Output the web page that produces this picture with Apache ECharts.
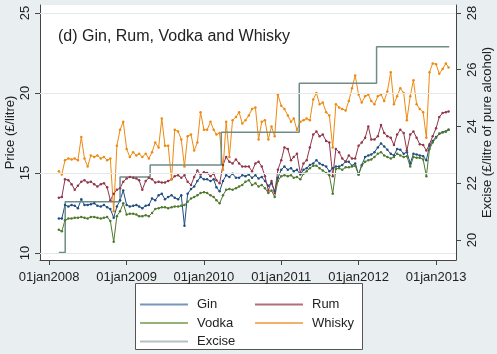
<!DOCTYPE html>
<html>
<head>
<meta charset="utf-8">
<style>
  html, body { margin: 0; padding: 0; background: #e9eff1; }
  #main { width: 497px; height: 354px; }
</style>
</head>
<body>
<div id="main"></div>
<script src="https://cdn.jsdelivr.net/npm/echarts@6/dist/echarts.min.js"></script>
<script>
// semi-monthly readings, Feb 2008 - Mar 2013
var dates = ('2008-02-16 2008-03-01 2008-03-16 2008-04-01 2008-04-16 2008-05-01 2008-05-16 2008-06-01 2008-06-16 2008-07-01 2008-07-16 2008-08-01 2008-08-16 2008-09-01 2008-09-16 2008-10-01 2008-10-16 2008-11-01 2008-11-16 2008-12-01 2008-12-16 ' +
  '2009-01-01 2009-01-16 2009-02-01 2009-02-16 2009-03-01 2009-03-16 2009-04-01 2009-04-16 2009-05-01 2009-05-16 2009-06-01 2009-06-16 2009-07-01 2009-07-16 2009-08-01 2009-08-16 2009-09-01 2009-09-16 2009-10-01 2009-10-16 2009-11-01 2009-11-16 2009-12-01 2009-12-16 ' +
  '2010-01-01 2010-01-16 2010-02-01 2010-02-16 2010-03-01 2010-03-16 2010-04-01 2010-04-16 2010-05-01 2010-05-16 2010-06-01 2010-06-16 2010-07-01 2010-07-16 2010-08-01 2010-08-16 2010-09-01 2010-09-16 2010-10-01 2010-10-16 2010-11-01 2010-11-16 2010-12-01 2010-12-16 ' +
  '2011-01-01 2011-01-16 2011-02-01 2011-02-16 2011-03-01 2011-03-16 2011-04-01 2011-04-16 2011-05-01 2011-05-16 2011-06-01 2011-06-16 2011-07-01 2011-07-16 2011-08-01 2011-08-16 2011-09-01 2011-09-16 2011-10-01 2011-10-16 2011-11-01 2011-11-16 2011-12-01 2011-12-16 ' +
  '2012-01-01 2012-01-16 2012-02-01 2012-02-16 2012-03-01 2012-03-16 2012-04-01 2012-04-16 2012-05-01 2012-05-16 2012-06-01 2012-06-16 2012-07-01 2012-07-16 2012-08-01 2012-08-16 2012-09-01 2012-09-16 2012-10-01 2012-10-16 2012-11-01 2012-11-16 2012-12-01 2012-12-16 ' +
  '2013-01-01 2013-01-16 2013-02-01 2013-02-16 2013-03-01').split(' ');

var gin = [
  12.15, 12.15, 13.0, 12.9, 13.0, 12.95, 12.8, 13.35, 13.0, 13.0, 13.05, 13.1, 12.95, 12.9, 13.0, 12.85, 12.75, 12.2, 12.9, 13.3, 13.9,
  13.0, 12.9, 12.95, 13.0, 12.9, 12.8, 12.95, 13.0, 13.4, 13.3, 13.6, 13.7, 13.35, 13.5, 13.6, 13.45, 13.35, 13.6, 11.7, 13.7, 14.0, 14.15, 14.5, 14.75,
  14.6, 14.6, 14.5, 14.6, 14.1, 13.85, 14.5, 14.85, 14.75, 14.95, 14.7, 14.7, 14.85, 14.8, 14.9, 14.7, 14.85, 14.65, 14.75, 14.5, 14.2, 14.35, 13.85, 14.7,
  15.2, 15.4, 15.2, 15.3, 15.1, 15.2, 14.9, 15.2, 15.3, 15.5, 15.6, 15.8, 15.6, 15.5, 15.4, 15.1, 15.3, 15.4, 15.4, 15.5, 15.7, 15.7, 15.45, 15.6,
  14.9, 15.5, 16.0, 16.1, 16.15, 16.3, 16.6, 16.85, 16.65, 16.45, 16.2, 16.1, 16.5, 16.45, 16.2, 16.3, 15.6, 16.2, 16.15, 16.1, 16.05, 15.8, 16.7, 17.0,
  17.25, 17.45, 17.55, 17.6, 17.7
];
var rum = [
  13.45, 13.5, 14.6, 14.55, 14.3, 13.95, 14.2, 14.45, 14.55, 14.4, 14.45, 14.3, 14.15, 14.3, 14.35, 14.1, 13.3, 13.7, 13.95, 14.05, 14.45,
  14.65, 14.75, 14.7, 14.65, 14.55, 13.95, 14.5, 14.7, 14.6, 14.4, 14.45, 14.4, 14.4, 14.5, 14.6, 14.8, 14.85, 14.7, 14.85, 14.45, 14.25, 14.75, 15.15, 14.9,
  15.05, 15.0, 14.8, 14.95, 14.55, 14.35, 15.5, 16.0, 15.7, 15.6, 15.85, 15.6, 15.4, 15.4, 15.4, 15.1, 15.6, 15.7, 15.4, 14.8, 13.9, 14.5, 13.75, 15.2,
  15.8, 16.6, 16.5, 15.8, 16.0, 16.2, 15.0, 15.6, 15.8, 16.6, 17.4, 17.6, 17.3, 17.4, 17.0, 16.9, 14.8, 16.5, 16.3, 15.9, 15.7, 16.1, 15.9, 15.9,
  16.7, 16.9, 17.2, 17.9, 17.1, 17.1, 17.3, 18.0, 17.5, 17.3, 17.2, 16.75, 17.4, 17.7, 17.5, 16.4, 17.4, 17.6, 17.2, 16.8, 16.75, 16.4, 16.8, 17.3,
  17.8, 18.5, 18.75, 18.8, 18.85
];
var vodka = [
  11.45, 11.35, 12.05, 12.15, 12.15, 12.2, 12.2, 12.25, 12.2, 12.15, 12.25, 12.25, 12.2, 12.15, 12.2, 12.25, 12.0, 10.7, 12.3, 12.6, 13.1,
  12.4, 12.45, 12.45, 12.4, 12.3, 12.3, 12.35, 12.3, 12.5, 12.75, 12.8, 12.85, 12.85, 12.8, 12.85, 12.9, 12.9, 12.95, 13.0, 13.2, 13.4, 13.5, 13.6, 13.75,
  13.8, 13.75, 13.6, 13.5, 13.3, 13.1, 13.6, 13.95, 14.0, 13.95, 14.05, 14.15, 14.25, 14.45, 14.55, 14.25, 14.35, 14.15, 14.25, 14.05, 13.75, 13.9, 13.5, 14.5,
  14.8, 14.85, 14.8, 14.85, 14.7, 14.75, 14.6, 14.95, 15.1, 15.3, 15.45, 15.45, 15.3, 15.15, 15.0, 14.85, 13.7, 15.25, 15.3, 15.2, 15.35, 15.35, 15.4, 15.45,
  14.9, 15.45, 15.7, 15.8, 15.85, 16.0, 16.2, 16.3, 16.1, 16.0, 15.9, 16.0, 16.2, 16.1, 16.0, 16.05, 15.4, 16.0, 15.95, 15.95, 15.85, 14.8, 16.5, 16.9,
  17.2, 17.45, 17.55, 17.6, 17.7
];
var whisky = [
  15.1, 14.9, 15.8, 15.9, 15.85, 15.9, 15.8, 17.25, 15.9, 15.4, 16.1, 16.0, 16.1, 15.9, 16.0, 15.8, 15.9, 12.6, 16.7, 17.7, 18.2,
  16.5, 16.0, 16.3, 16.1, 16.2, 16.0, 16.2, 15.9, 16.3, 16.9, 16.6, 18.4, 16.7, 16.7, 14.6, 17.7, 17.6, 17.1, 15.4, 17.3, 17.4, 16.4, 16.9, 18.8,
  17.7, 17.7, 18.2, 17.7, 17.4, 17.5, 15.2, 18.2, 16.0, 18.3, 18.5, 18.8, 18.1, 18.3, 18.6, 19.0, 19.1, 17.1, 18.2, 18.3, 17.1, 17.9, 17.3, 19.9,
  19.2, 19.0, 18.6, 18.2, 18.4, 17.7, 18.2, 18.3, 18.4, 18.3, 19.6, 20.0, 19.3, 19.4, 18.8, 18.6, 16.6, 19.3, 19.1, 19.0, 18.9, 19.5, 20.3, 21.1,
  19.9, 19.4, 19.8, 19.9, 19.5, 19.3, 19.8, 19.9, 19.5, 20.1, 21.3, 19.3, 19.8, 20.3, 20.0, 18.3, 19.8, 20.8, 19.3, 19.0, 18.8, 17.2, 21.3, 21.85,
  21.8, 21.2, 21.5, 21.85, 21.6
];

// duty per litre of pure alcohol, step changes
var exciseDates = ['2008-02-16', '2008-03-17', '2008-12-01', '2009-04-22', '2010-03-24', '2011-03-27', '2012-03-26', '2013-03-04'];
var excise = [19.56, 21.35, 22.22, 22.64, 23.80, 25.52, 26.81, 26.81];

var priceTicks = [10, 15, 20, 25];
var exciseTicks = [20, 22, 24, 26, 28];
var xTickDates = ['2008-01-01', '2009-01-01', '2010-01-01', '2011-01-01', '2012-01-01', '2013-01-01'];
var xTickLabels = ['01jan2008', '01jan2009', '01jan2010', '01jan2011', '01jan2012', '01jan2013'];

var font = '"Liberation Sans", Arial, sans-serif';
var axisColor = '#444';

function ts(d) { return echarts.time.parse(d).getTime(); }
var xTickVals = xTickDates.map(ts);

function pairs(vals) {
  return dates.map(function (d, i) { return [ts(d), vals[i]]; });
}

function priceLine(name, color, vals) {
  return {
    name: name,
    type: 'line',
    data: pairs(vals),
    symbol: 'circle',
    symbolSize: 2.5,
    showSymbol: true,
    lineStyle: { width: 1, color: color },
    itemStyle: { color: color },
    emphasis: { disabled: true },
    animation: false
  };
}

var chart = echarts.init(document.getElementById('main'));

var ginSeries = priceLine('Gin', '#1f4f80', gin);
ginSeries.markLine = {
  silent: true,
  symbol: ['none', 'none'],
  label: { show: false },
  lineStyle: { color: '#e4e9ec', width: 1, type: 'solid' },
  animation: false,
  data: priceTicks.map(function (v) { return { yAxis: v }; })
};

chart.setOption({
  backgroundColor: '#e9eff1',
  textStyle: { fontFamily: font },
  title: {
    text: '(d) Gin, Rum, Vodka and Whisky',
    left: 58,
    top: 29,
    padding: 0,
    textStyle: { fontSize: 16, fontWeight: 'normal', color: '#222', fontFamily: font }
  },
  grid: {
    left: 40, right: 41, top: 5, bottom: 94,
    outerBoundsMode: 'none',
    containLabel: false,
    show: true, backgroundColor: '#fff', borderWidth: 0
  },
  graphic: [{
    type: 'rect', left: 135, top: 283, z: 0,
    shape: { width: 227, height: 66 },
    style: { fill: '#fff', stroke: '#555', lineWidth: 1 }
  }],
  legend: [{
    orient: 'vertical', left: 140, top: 296.5, padding: 0,
    itemWidth: 48, itemHeight: 2, itemGap: 2.5, icon: 'rect',
    selectedMode: false,
    textStyle: { fontSize: 13, lineHeight: 16, color: '#222', padding: [0, 0, 0, 4] },
    data: [
      { name: 'Gin', itemStyle: { color: '#7896bb' } },
      { name: 'Vodka', itemStyle: { color: '#93b274' } },
      { name: 'Excise', itemStyle: { color: '#b6c0c0' } }
    ]
  }, {
    orient: 'vertical', left: 255, top: 296.5, padding: 0,
    itemWidth: 48, itemHeight: 2, itemGap: 2.5, icon: 'rect',
    selectedMode: false,
    textStyle: { fontSize: 13, lineHeight: 16, color: '#222', padding: [0, 0, 0, 4] },
    data: [
      { name: 'Rum', itemStyle: { color: '#b0707a' } },
      { name: 'Whisky', itemStyle: { color: '#f2b06a' } }
    ]
  }],
  xAxis: {
    type: 'value',
    min: ts('2007-11-19'),
    max: ts('2013-04-05'),
    axisLine: { show: true, onZero: false, lineStyle: { color: axisColor } },
    axisTick: { show: true, length: 5, customValues: xTickVals, lineStyle: { color: axisColor } },
    axisLabel: {
      customValues: xTickVals,
      margin: 11,
      fontSize: 13,
      color: '#222',
      formatter: function (v) {
        var i = xTickVals.indexOf(v);
        return i >= 0 ? xTickLabels[i] : '';
      }
    },
    splitLine: { show: false }
  },
  yAxis: [{
    type: 'value',
    position: 'left',
    min: 9.56, max: 25.5,
    name: 'Price (£/litre)',
    nameLocation: 'middle', nameGap: 23.5, nameRotate: 90,
    nameMoveOverlap: false,
    nameTextStyle: { fontSize: 13, color: '#222' },
    axisLine: { show: true, lineStyle: { color: axisColor } },
    axisTick: { show: true, length: 5, customValues: priceTicks, lineStyle: { color: axisColor } },
    axisLabel: { customValues: priceTicks, rotate: 90, margin: 8.5, fontSize: 13, color: '#222' },
    splitLine: { show: false }
  }, {
    type: 'value',
    position: 'right',
    min: 19.295, max: 28.28,
    name: 'Excise (£/litre of pure alcohol)',
    nameLocation: 'middle', nameGap: 24.5, nameRotate: 90,
    nameMoveOverlap: false,
    nameTextStyle: { fontSize: 13, color: '#222' },
    axisLine: { show: true, lineStyle: { color: axisColor } },
    axisTick: { show: true, length: 5, customValues: exciseTicks, lineStyle: { color: axisColor } },
    axisLabel: { customValues: exciseTicks, rotate: 90, margin: 9.5, fontSize: 13, color: '#222' },
    splitLine: { show: false }
  }],
  series: [
    ginSeries,
    priceLine('Rum', '#93364a', rum),
    priceLine('Vodka', '#4f7a2c', vodka),
    priceLine('Whisky', '#ee8a10', whisky),
    {
      name: 'Excise',
      type: 'line',
      yAxisIndex: 1,
      step: 'end',
      symbol: 'none',
      data: exciseDates.map(function (d, i) { return [ts(d), excise[i]]; }),
      lineStyle: { width: 1.5, color: '#708c88' },
      itemStyle: { color: '#708c88' },
      emphasis: { disabled: true },
      animation: false
    }
  ]
});
</script>
</body>
</html>
